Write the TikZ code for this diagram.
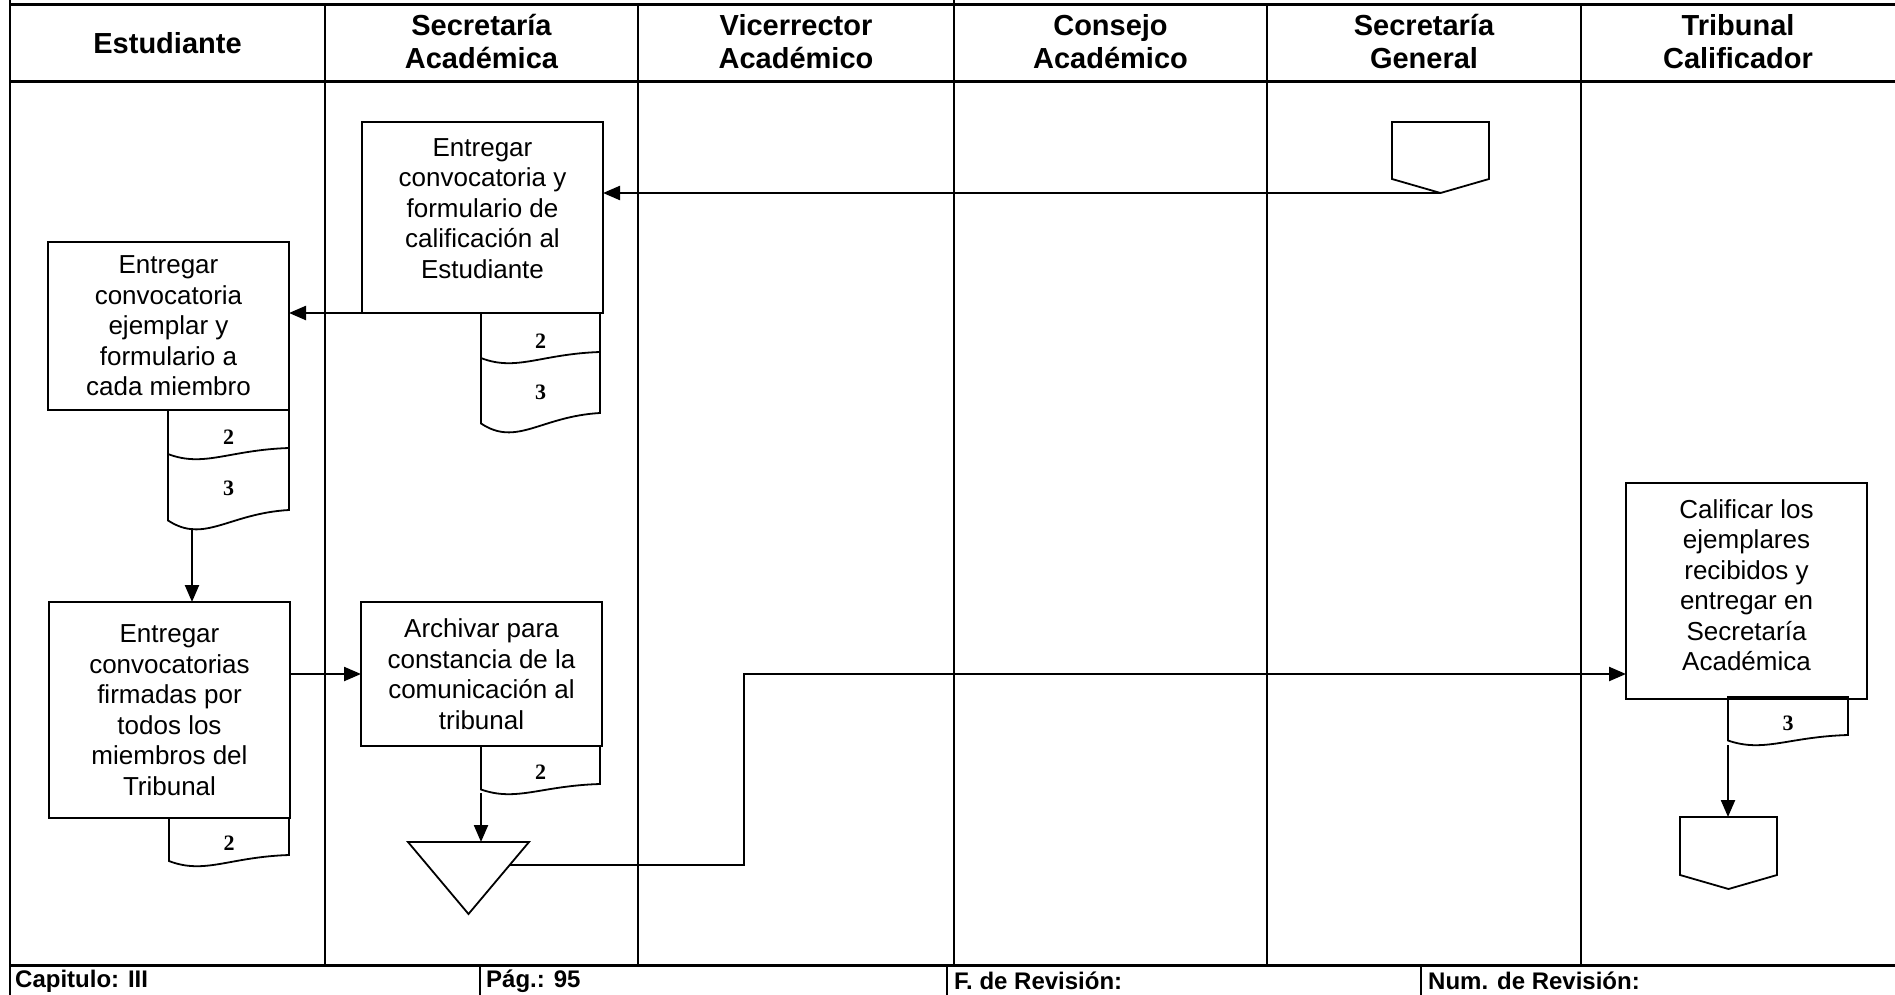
\documentclass[tikz,border=0pt]{standalone}
\usepackage{fontspec}
\setmainfont{Liberation Sans}
\newfontfamily\serifnum{Liberation Serif}
\usetikzlibrary{arrows.meta,calc}

\tikzset{
  gridline/.style={line width=2.2pt},
  ruleline/.style={line width=3pt},
  boxline/.style={line width=1.8pt, line join=miter},
  shapebox/.style={draw=none, inner sep=0pt, outer sep=0pt},
  stepbox/.style={draw, line width=1.8pt, inner sep=0pt, outer sep=0pt,
    minimum width=241pt, align=center, font=\fontsize{26}{30.5}\selectfont},
  lanehead/.style={align=center, font=\fontsize{29}{33}\selectfont\bfseries},
  foot/.style={anchor=west, inner sep=0pt, font=\fontsize{24}{28}\selectfont\bfseries},
  docnum/.style={inner sep=0pt, font=\serifnum\bfseries\fontsize{22}{24}\selectfont},
  flow/.style={line width=2.3pt, -{Triangle[length=17pt, width=14pt]}},
}

% extra depth under the last line of a box text, lifting the text block
\newcommand{\liftby}[1]{\rule[-#1]{0pt}{0pt}}

% document sheet with a wavy lower edge
% #1 name, #2 left x, #3 right x, #4 top y, #5 bottom y (right side),
% #6 wave depth, #7 number, #8 number offset from top
\newcommand{\docsheet}[8]{%
  \node[shapebox, minimum width={#3-#2}, minimum height={#5-#4}, anchor=north west] (#1) at (#2,#4) {};
  \draw[boxline] (#2,#4) -- (#3,#4) -- (#3,#5)
    .. controls ({#3-0.5*(#3-#2)},{#5+0.18*#6}) and ({#2+0.3*(#3-#2)},{#5+1.8*#6}) .. (#2,{#5+0.55*#6}) -- cycle;
  \node[docnum] (#1-num) at ({(#2+#3)/2},{#4+#8}) {#7};
}
% second sheet hanging below a first one
% #1 name, #2 left x, #3 right x, #4 top y (right side), #5 bottom y (right side),
% #6 wave depth, #7 wave depth of the sheet above, #8 number, #9 number offset
\newcommand{\docsheetlow}[9]{%
  \node[shapebox, minimum width={#3-#2}, minimum height={#5-#4}, anchor=north west] (#1) at (#2,#4) {};
  \draw[boxline] (#3,#4) -- (#3,#5)
    .. controls ({#3-0.5*(#3-#2)},{#5+0.18*#6}) and ({#2+0.3*(#3-#2)},{#5+1.8*#6}) .. (#2,{#5+0.55*#6})
    -- (#2,{#4+0.55*#7});
  \node[docnum] (#1-num) at ({(#2+#3)/2},{#4+#9}) {#8};
}
% off-page connector: #1 name, #2 centre x, #3 top y, #4 width, #5 height
\newcommand{\offpage}[5]{%
  \node[shapebox, minimum width=#4, minimum height=#5, anchor=north] (#1) at (#2,#3) {};
  \draw[boxline] (#1.north west) -- (#1.north east) -- ([yshift=14pt]#1.south east)
    -- (#1.south) -- ([yshift=14pt]#1.south west) -- cycle;
}

\begin{document}
\begin{tikzpicture}[x=1pt, y=-1pt]
\useasboundingbox (0,0) rectangle (1895,995);

% table frame
\draw[ruleline] (10,5) -- (1895,5);
\draw[ruleline] (10,82) -- (1895,82);
\draw[ruleline] (10,965) -- (1895,965);
\draw[gridline] (10,0) -- (10,995);
\draw[gridline] (954,0) -- (954,5);
\foreach \x in {325,638,954,1267,1581} \draw[gridline] (\x,5) -- (\x,965);
\foreach \x in {480,947,1421} \draw[gridline] (\x,965) -- (\x,995);

% lane headings
\node[lanehead] (h1) at (167.5,43) {Estudiante};
\node[lanehead] (h2) at (481.5,41.5) {Secretaría\\Académica};
\node[lanehead] (h3) at (796,41.5) {Vicerrector\\Académico};
\node[lanehead] (h4) at (1110.5,41.5) {Consejo\\Académico};
\node[lanehead] (h5) at (1424,41.5) {Secretaría\\General};
\node[lanehead] (h6) at (1738,41.5) {Tribunal\\Calificador};

% footer
\node[foot] (f1) at (15,981) {Capitulo: III};
\node[foot] (f2) at (486,981) {Pág.: 95};
\node[foot] (f3) at (954,981) {F. de Revisión:};
\node[foot] (f4) at (1428,981) {Num. de Revisión:};

% activities
\node[stepbox, minimum height=191pt] (s1) at (482.5,217.5)
  {Entregar\\convocatoria y\\formulario de\\calificación al\\Estudiante\liftby{18pt}};
\node[stepbox, minimum height=168pt] (a2) at (168.5,326)
  {Entregar\\convocatoria\\ejemplar y\\formulario a\\cada miembro};
\node[stepbox, minimum height=216pt] (a3) at (169.5,710)
  {Entregar\\convocatorias\\firmadas por\\todos los\\miembros del\\Tribunal};
\node[stepbox, minimum height=144pt] (ar) at (481.5,674)
  {Archivar para\\constancia de la\\comunicación al\\tribunal};
\node[stepbox, minimum height=216pt] (tc) at (1746.5,591)
  {Calificar los\\ejemplares\\recibidos y\\entregar en\\Secretaría\\Académica\liftby{12pt}};

% documents
\docsheet{s1d2}{481}{600}{313}{352}{11}{2}{28}
\docsheetlow{s1d3}{481}{600}{352}{413}{19}{11}{3}{40}
\docsheet{a2d2}{168}{289}{410}{448}{11}{2}{27}
\docsheetlow{a2d3}{168}{289}{448}{510}{19}{11}{3}{40}
\docsheet{a3d2}{169}{289}{818}{855}{11}{2}{25}
\docsheet{ard2}{481}{600}{746}{784}{10}{2}{26}
\docsheet{tcd3}{1728}{1848}{697}{735}{10}{3}{26}

% connectors to other pages
\offpage{sgoff}{1440.5}{122}{97}{71}
\offpage{tcoff}{1728.5}{817}{97}{72}

% archive
\node[shapebox, minimum width=121pt, minimum height=72pt, anchor=north] (merge) at (468.5,842) {};
\draw[boxline] (merge.north west) -- (merge.north east) -- (merge.south) -- cycle;

% flow
\coordinate (s1out) at ([xshift=95pt]s1.south west);
\coordinate (a2out) at ([xshift=24pt,yshift=-18pt]a2d3.south west);
\coordinate (arout) at ([yshift=-9pt]ard2.south west);
\coordinate (tcout) at ([yshift=-10pt]tcd3.south west);
\coordinate (mergeout) at ($(merge.north east)!0.32!(merge.south)$);
\coordinate (riser) at (744,674);

\draw[flow] (sgoff.south) -- (sgoff.south -| s1.east);
\draw[flow] (s1out) -- (s1out -| a2.east);
\draw[flow] (a2out) -- (a2out |- a3.north);
\draw[flow] (a3.east |- ar.west) -- (ar.west);
\draw[flow] (arout) -- (arout |- merge.north);
\draw[flow] (mergeout) -| (riser) -- (riser -| tc.west);
\draw[flow] (tcout) -- (tcout |- tcoff.north);
\end{tikzpicture}
\end{document}
